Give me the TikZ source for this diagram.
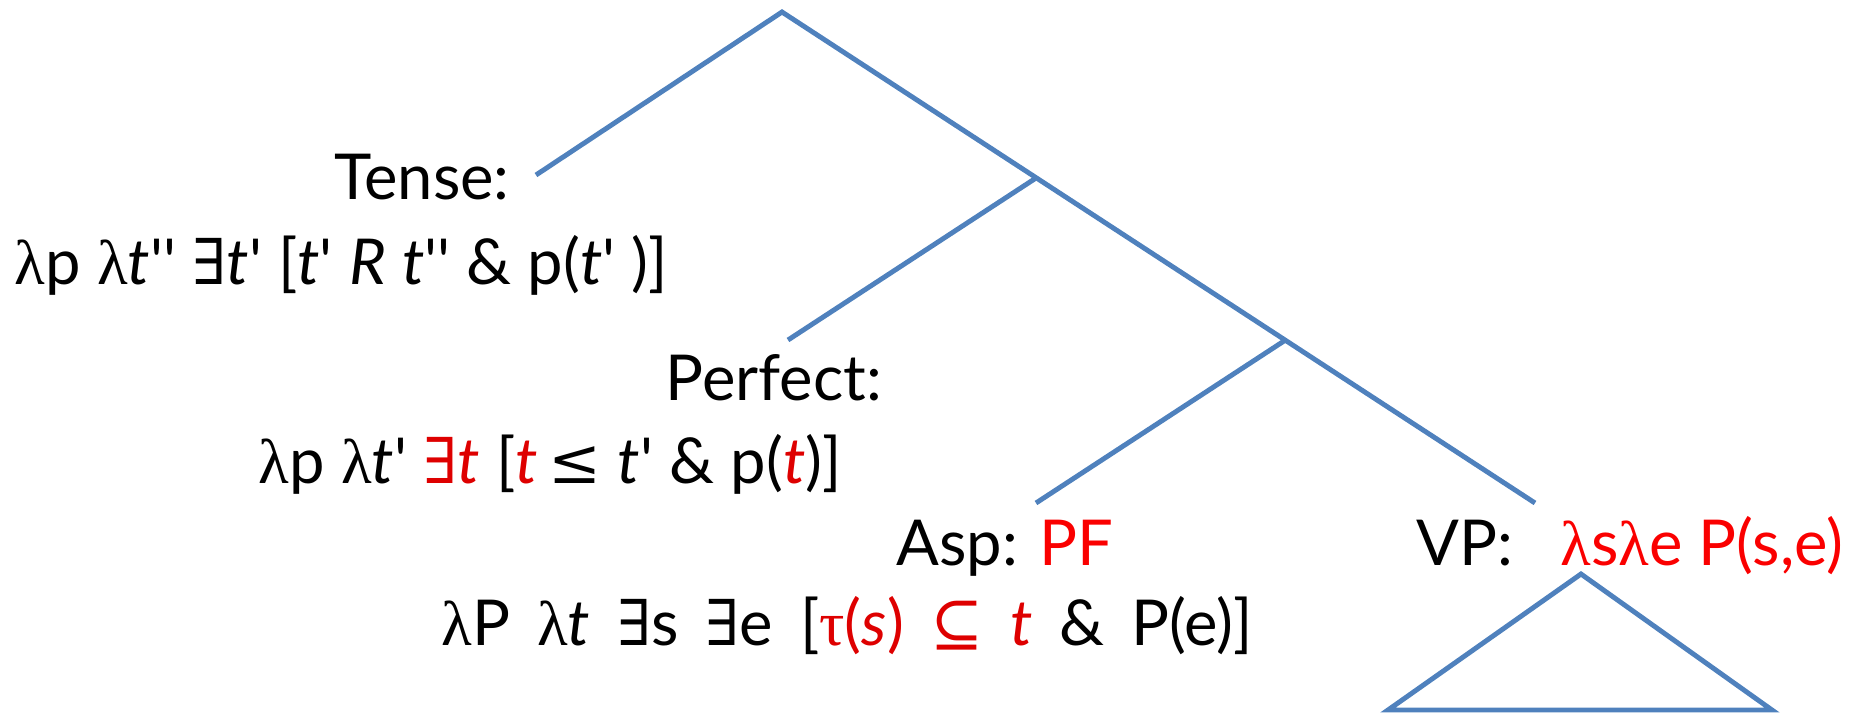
\documentclass[tikz,border=0pt]{standalone}
\usepackage{fontspec}
\setmainfont{Lato}[Ligatures=TeXOff]
\newfontfamily\symf{DejaVu Serif}
\newfontfamily\grkf{Liberation Serif}
\usepackage{xcolor}
\usetikzlibrary{positioning}
\definecolor{treeblue}{RGB}{79,129,189}
\definecolor{markred}{RGB}{222,0,0}
\definecolor{brightred}{RGB}{250,0,0}
\newcommand{\lam}{{\grkf λ}}
\newcommand{\ex}{{\symf ∃}}
\newcommand{\rd}[1]{\textcolor{markred}{#1}}

\begin{document}
\begin{tikzpicture}[
    x=0.01cm, y=-0.01cm,
    branch/.style={draw=treeblue, line width=1.4pt},
    lbl/.style={anchor=base west, inner sep=0pt, font=\fontsize{18}{22}\selectfont}
]
    \useasboundingbox (0,0) rectangle (1856,714);
    \coordinate (root)  at (782,12);
    \coordinate (tleaf) at (536,175);
    \coordinate (pnode) at (1036,178);
    \coordinate (pleaf) at (788,340);
    \coordinate (anode) at (1284,341);
    \coordinate (aleaf) at (1036,503);
    \coordinate (vleaf) at (1535,503);
    \coordinate (top)   at (1581,574);
    \coordinate (bl)    at (1388,710);
    \coordinate (br)    at (1772,710);

    \node[lbl] (tense)  at (334,199) {Tense:};
    \node[lbl] (tsem)   at (14,284)  {\lam p \lam\textit{t}'' \ex\textit{t}' [\textit{t}' \textit{R} \textit{t}'' \& p(\textit{t}' )]};
    \node[lbl] (perf)   at (665,400) {Perfect:};
    \node[lbl] (psem)   at (258,483) {\lam p \lam\textit{t}' \rd{\ex\textit{t}} [\rd{\textit{t}}\,{\symf ≤} \textit{t}' \& p(\rd{\textit{t}})]};
    \node[lbl] (asp)    at (896,565) {Asp: \textcolor{brightred}{PF}};
    \node[lbl] (asem)   at (441,645) {\lam P\, \lam\textit{t}\, \ex s\, \ex e\, [\rd{{\grkf τ}(\textit{s})\, {\symf ⊆}\, \textit{t}}\, \&\, P(e)]};
    \node[lbl] (vp)     at (1416,565) {VP:};
    \node[lbl, base right=13pt of vp] (vsem) {\textcolor{brightred}{\lam s\lam e P(s,e)}};

    \draw[branch] (tleaf) -- (root) -- (vleaf);
    \draw[branch] (pleaf) -- (pnode);
    \draw[branch] (aleaf) -- (anode);
    \draw[branch] (top) -- (bl) -- (br) -- cycle;
\end{tikzpicture}
\end{document}
